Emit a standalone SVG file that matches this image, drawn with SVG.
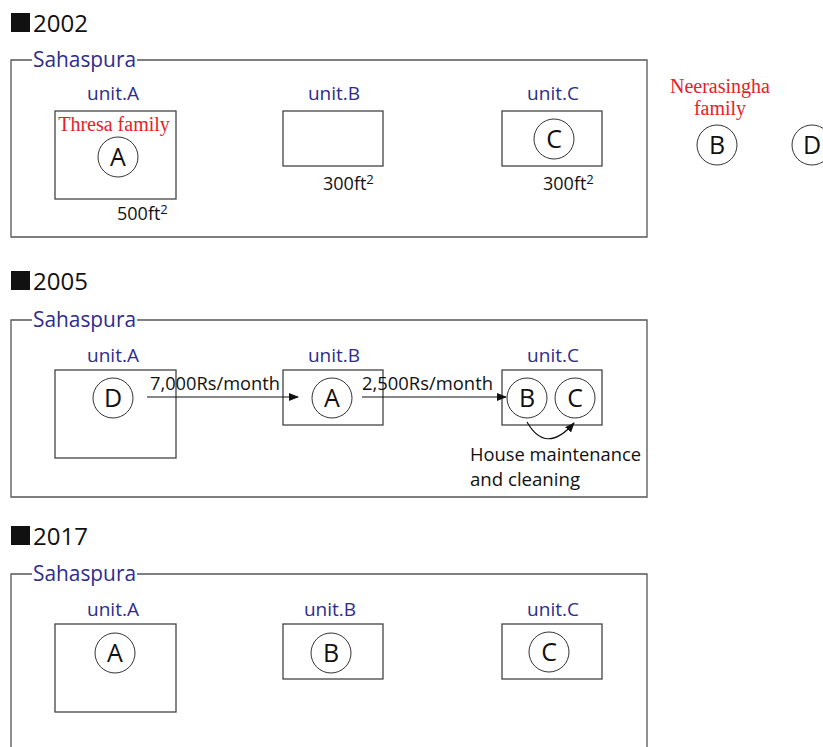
<svg xmlns="http://www.w3.org/2000/svg" width="823" height="747" viewBox="0 0 823 747">
<style>
.frame{fill:none;stroke:#555;stroke-width:1.3}
.box{fill:none;stroke:#444;stroke-width:1.3}
.circ{fill:none;stroke:#333;stroke-width:1}
.yr{font-family:"Open Sans","Noto Sans",sans-serif;font-size:24px;fill:#111}
.place{font-family:"Open Sans","Noto Sans",sans-serif;font-size:21px;fill:#2e2c8c}
.unit{font-family:"Open Sans","Noto Sans",sans-serif;font-size:19px;fill:#2e2c8c;text-anchor:middle}
.let{font-family:"Open Sans","Noto Sans",sans-serif;font-size:25px;fill:#111;text-anchor:middle}
.area{font-family:"Open Sans","Noto Sans",sans-serif;font-size:18px;fill:#111}
.sup{font-size:13px}
.fam{font-family:"Liberation Serif",serif;font-size:20px;fill:#e8202a;text-anchor:middle}
.lbl{font-family:"Open Sans","Noto Sans",sans-serif;font-size:19px;fill:#111}
.lbl2{font-family:"Open Sans","Noto Sans",sans-serif;font-size:18px;fill:#111}
.conn{fill:none;stroke:#111;stroke-width:1.2}
</style>
<defs>
<marker id="ah" markerWidth="10" markerHeight="8" refX="9" refY="4" orient="auto" markerUnits="userSpaceOnUse">
<path d="M0,0 L10,4 L0,8 Z" fill="#111"/>
</marker>
</defs>

<!-- 2002 -->
<g id="y2002">
<rect x="11" y="13" width="19" height="19" fill="#111"/>
<text class="yr" x="33" y="32">2002</text>
<path class="frame" d="M32,60 H11 V237 H647 V60 H137"/>
<text class="place" x="33" y="67" textLength="103" lengthAdjust="spacingAndGlyphs">Sahaspura</text>
</g>
<g id="a2002">
<text class="unit" x="113" y="100">unit.A</text>
<rect class="box" x="55" y="111" width="121" height="88"/>
<text class="fam" x="114" y="131">Thresa family</text>
<circle class="circ" cx="118" cy="157" r="20"/>
<text class="let" x="118" y="166">A</text>
<text class="area" x="117" y="220">500ft<tspan class="sup" dy="-6">2</tspan></text>
</g>
<g id="b2002">
<text class="unit" x="334" y="100">unit.B</text>
<rect class="box" x="283" y="111" width="100" height="55"/>
<text class="area" x="323" y="190">300ft<tspan class="sup" dy="-6">2</tspan></text>
</g>
<g id="c2002">
<text class="unit" x="553" y="100">unit.C</text>
<rect class="box" x="502" y="111" width="100" height="55"/>
<circle class="circ" cx="554" cy="139" r="20"/>
<text class="let" x="554" y="148">C</text>
<text class="area" x="543" y="190">300ft<tspan class="sup" dy="-6">2</tspan></text>
</g>
<g id="neer2002">
<text class="fam" x="720" y="93">Neerasingha</text>
<text class="fam" x="720" y="115">family</text>
<circle class="circ" cx="717" cy="145" r="20"/>
<text class="let" x="717" y="154">B</text>
<circle class="circ" cx="812" cy="145" r="20"/>
<text class="let" x="812" y="154">D</text>
</g>

<!-- 2005 -->
<g id="y2005">
<rect x="11" y="271" width="19" height="19" fill="#111"/>
<text class="yr" x="33" y="290">2005</text>
<path class="frame" d="M32,320 H11 V497 H647 V320 H137"/>
<text class="place" x="33" y="327" textLength="103" lengthAdjust="spacingAndGlyphs">Sahaspura</text>
</g>
<g id="a2005">
<text class="unit" x="113" y="362">unit.A</text>
<rect class="box" x="55" y="370" width="121" height="88"/>
<circle class="circ" cx="113" cy="398" r="20"/>
<text class="let" x="113" y="407">D</text>
</g>
<g id="b2005">
<text class="unit" x="334" y="362">unit.B</text>
<rect class="box" x="283" y="370" width="100" height="55"/>
<circle class="circ" cx="332" cy="398" r="20"/>
<text class="let" x="332" y="407">A</text>
</g>
<g id="c2005">
<text class="unit" x="553" y="362">unit.C</text>
<rect class="box" x="502" y="370" width="100" height="55"/>
<circle class="circ" cx="527" cy="398" r="20"/>
<text class="let" x="527" y="407">B</text>
<circle class="circ" cx="575" cy="398" r="20"/>
<text class="let" x="575" y="407">C</text>
</g>
<g id="connectors">
<line class="conn" x1="147" y1="397" x2="298" y2="397" marker-end="url(#ah)"/>
<text class="lbl" x="150" y="390" textLength="130" lengthAdjust="spacingAndGlyphs">7,000Rs/month</text>
<line class="conn" x1="362" y1="397" x2="506" y2="397" marker-end="url(#ah)"/>
<text class="lbl" x="362" y="390" textLength="131" lengthAdjust="spacingAndGlyphs">2,500Rs/month</text>
<path class="conn" d="M527,422 Q546,455 574,423" marker-end="url(#ah)"/>
<text class="lbl2" x="470" y="461" textLength="171" lengthAdjust="spacingAndGlyphs">House maintenance</text>
<text class="lbl2" x="470" y="486" textLength="110" lengthAdjust="spacingAndGlyphs">and cleaning</text>
</g>

<!-- 2017 -->
<g id="y2017">
<rect x="11" y="526" width="19" height="19" fill="#111"/>
<text class="yr" x="33" y="545">2017</text>
<path class="frame" d="M32,574 H11 V760 M137,574 H647 V760"/>
<text class="place" x="33" y="581" textLength="103" lengthAdjust="spacingAndGlyphs">Sahaspura</text>
</g>
<g id="a2017">
<text class="unit" x="113" y="616">unit.A</text>
<rect class="box" x="55" y="624" width="121" height="88"/>
<circle class="circ" cx="115" cy="653" r="20"/>
<text class="let" x="115" y="662">A</text>
</g>
<g id="b2017">
<text class="unit" x="330" y="616">unit.B</text>
<rect class="box" x="283" y="624" width="100" height="55"/>
<circle class="circ" cx="331" cy="653" r="20"/>
<text class="let" x="331" y="662">B</text>
</g>
<g id="c2017">
<text class="unit" x="553" y="616">unit.C</text>
<rect class="box" x="502" y="624" width="100" height="55"/>
<circle class="circ" cx="549" cy="652" r="20"/>
<text class="let" x="549" y="661">C</text>
</g>
</svg>
